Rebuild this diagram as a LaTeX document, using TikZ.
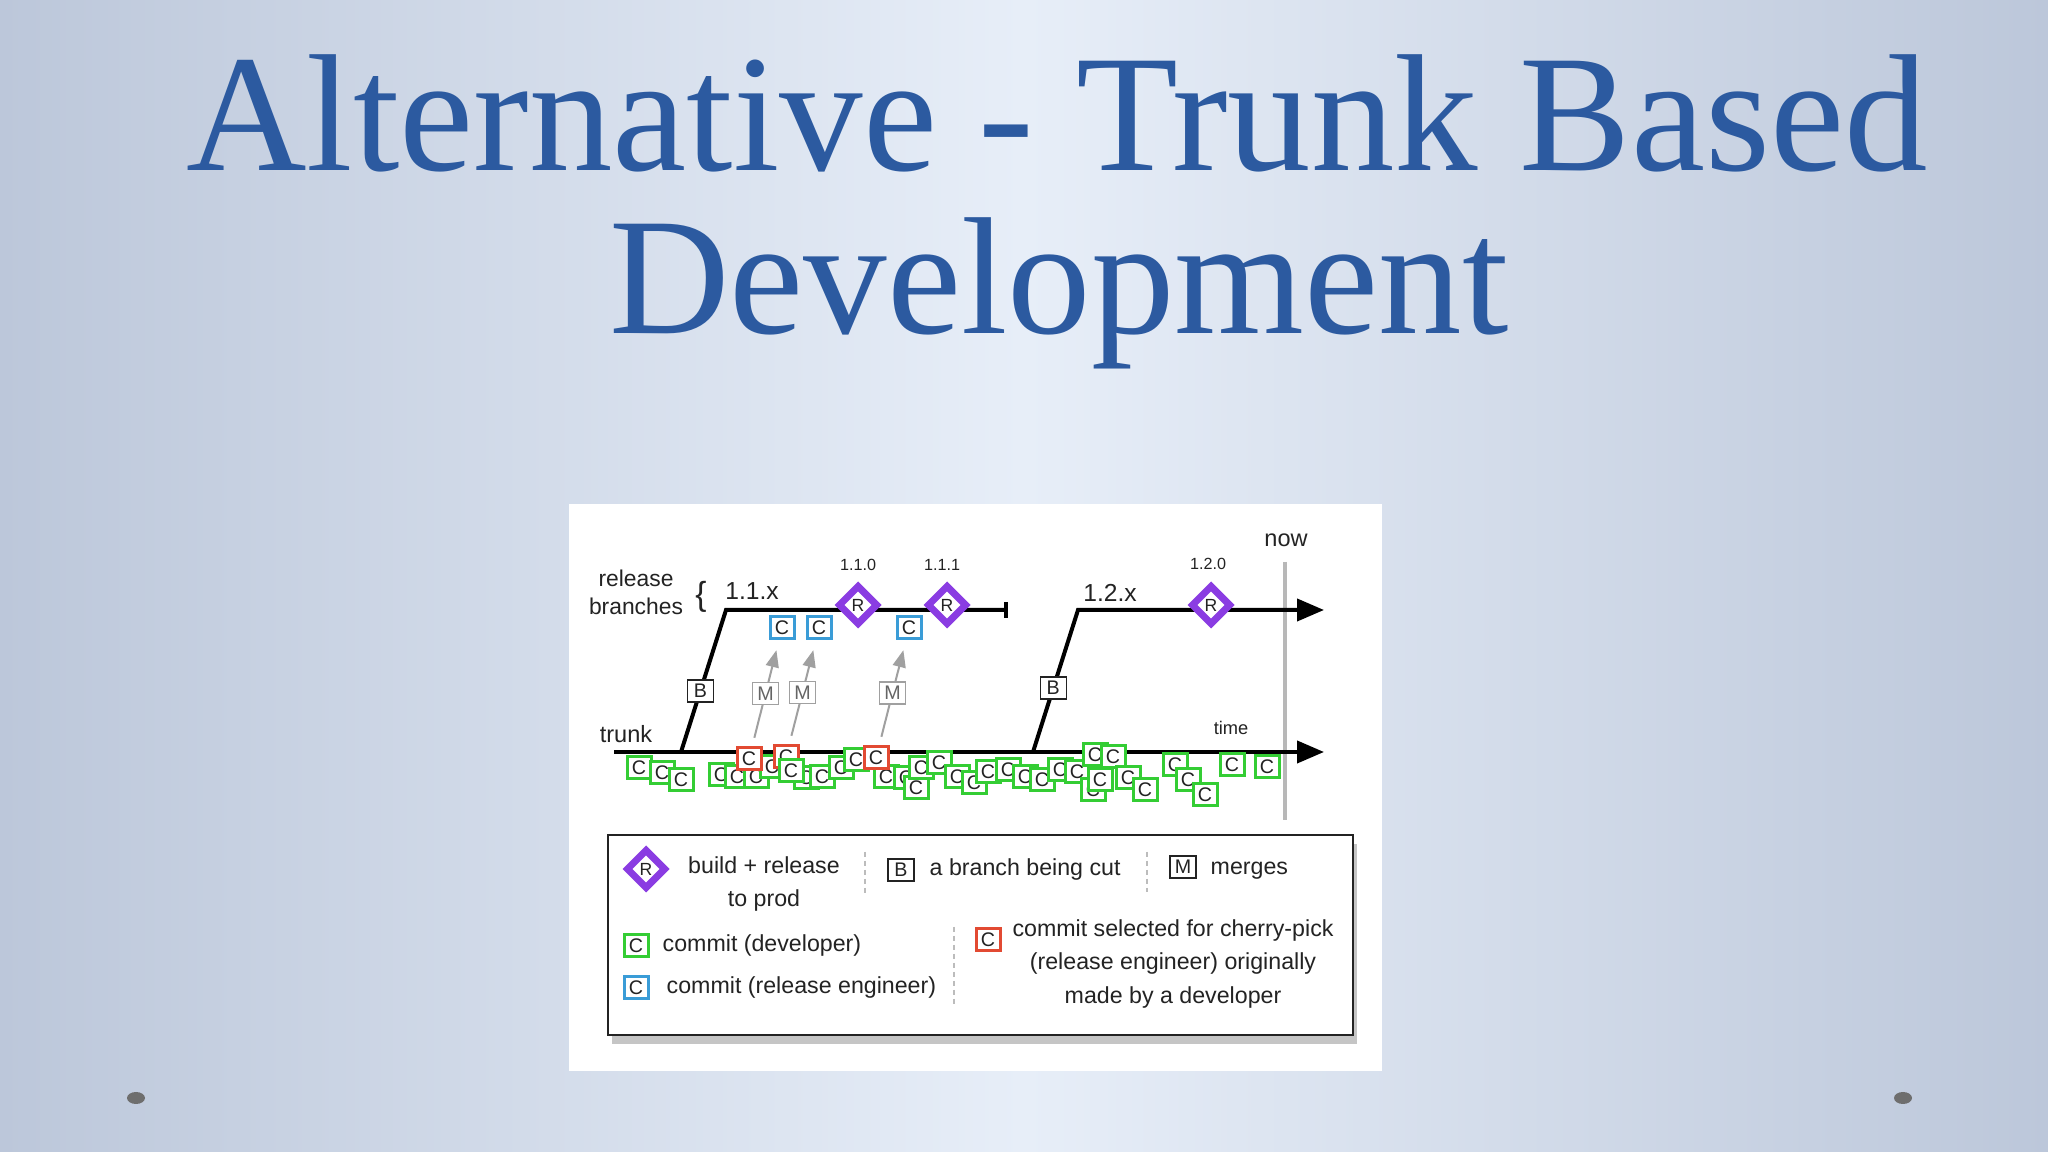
\documentclass[tikz,border=0pt]{standalone}
\usepackage{fontspec}
\setmainfont{Liberation Serif}
\newfontfamily\diagfont{Liberation Sans}
\usetikzlibrary{shapes.geometric,arrows.meta,shadows}

\definecolor{titleblue}{RGB}{44,90,160}
\definecolor{slideedge}{RGB}{188,199,218}
\definecolor{slidemid}{RGB}{231,238,248}
\definecolor{devgreen}{RGB}{52,205,52}
\definecolor{relblue}{RGB}{58,156,215}
\definecolor{pickred}{RGB}{226,74,50}
\definecolor{buildpurple}{RGB}{138,60,226}
\definecolor{mergegray}{RGB}{160,160,160}
\definecolor{inkgray}{RGB}{35,35,35}
\definecolor{bulletgray}{RGB}{110,110,110}

\tikzset{
	title/.style={text=titleblue, font=\fontsize{47.5}{56}\selectfont, inner sep=0pt},
	commit/.style={draw, fill=white, line width=0.3mm, minimum width=2.4mm, minimum height=2.2mm, inner sep=0pt, text=inkgray, font=\diagfont\fontsize{5.6}{6}\selectfont},
	devc/.style={commit, draw=devgreen},
	relc/.style={commit, draw=relblue},
	pickc/.style={commit, draw=pickred},
	cutbox/.style={draw=inkgray, fill=white, line width=0.15mm, minimum width=2.6mm, minimum height=2.2mm, inner sep=0pt, text=inkgray, font=\diagfont\fontsize{5.6}{6}\selectfont},
	mergebox/.style={cutbox, draw=mergegray, text=inkgray!70},
	release/.style={diamond, draw=buildpurple, fill=white, line width=0.7mm, minimum width=4mm, minimum height=4mm, inner sep=0pt, text=inkgray, font=\diagfont\fontsize{5}{6}\selectfont},
	trunkline/.style={line width=0.4mm, black},
	merge/.style={mergegray, line width=0.2mm, shorten <=0.9mm, shorten >=1mm, -{Triangle[length=1.7mm,width=1.3mm]}},
	lbl/.style={inner sep=0pt, text=inkgray, font=\diagfont\fontsize{6.7}{8}\selectfont},
	verlbl/.style={inner sep=0pt, text=inkgray, font=\diagfont\fontsize{4.6}{5}\selectfont},
	keytext/.style={inner sep=0pt, text=inkgray, font=\diagfont\fontsize{6.6}{9.6}\selectfont},
	sep/.style={mergegray!70, line width=0.12mm, dash pattern=on 0.5mm off 0.4mm},
}

\begin{document}
\begin{tikzpicture}[x=0.1mm, y=-0.1mm]
			% slide
			\shade[left color=slideedge, right color=slideedge, middle color=slidemid] (0,0) rectangle (2048,1152);
			\useasboundingbox (0,0) rectangle (2048,1152);
			\node[title, anchor=base] (title1) at (1057,171) {Alternative - Trunk Based};
			\node[title, anchor=base] (title2) at (1059,334) {Development};
			\fill[bulletgray] (136,1098) ellipse (0.9mm and 0.6mm);
			\fill[bulletgray] (1903,1098) ellipse (0.9mm and 0.6mm);

			% diagram panel
			\fill[white] (569,504) rectangle (1382,1071);

			\coordinate (trunkstart) at (614,752);
			\coordinate (trunkend) at (1324,752);
			\coordinate (root1) at (681,752);
			\coordinate (top1) at (726,610);
			\coordinate (end1) at (1008,610);
			\coordinate (root2) at (1033,752);
			\coordinate (top2) at (1078,610);
			\coordinate (end2) at (1324,610);
			\coordinate (nowtop) at (1285,562);
			\coordinate (nowbot) at (1285,820);

			\draw[mergegray!75, line width=0.35mm] (nowtop)--(nowbot);
			\node[lbl] (now) at (1286,540) {now};
			\node[lbl, font=\diagfont\fontsize{5.2}{6}\selectfont] (time) at (1231,728) {time};
			\node[lbl] (trunk) at (626,734) {trunk};
			\node[lbl, align=center, font=\diagfont\fontsize{6.5}{8}\selectfont] (relbr) at (636,592) {release\\branches};
			\node[lbl, font=\diagfont\fontsize{9.5}{10}\selectfont] (brace) at (701,597) {\{};
			\node[lbl, font=\diagfont\fontsize{7}{8}\selectfont] (ver11) at (752,591) {1.1.x};
			\node[lbl, font=\diagfont\fontsize{7}{8}\selectfont] (ver12) at (1110,593) {1.2.x};

			\draw[trunkline, -{Triangle[length=2.7mm,width=2.2mm]}] (trunkstart)--(trunkend);
			\draw[trunkline, -{Bar[width=1.6mm]}] (root1)-- node[cutbox, pos=0.43] (cut1) {B} (top1)--(end1);
			\draw[trunkline, -{Triangle[length=2.7mm,width=2.2mm]}] (root2)-- node[cutbox, pos=0.45] (cut2) {B} (top2)--(end2);

			\node[release] (r110) at (858,605) {R};
			\node[release] (r111) at (947,605) {R};
			\node[release] (r120) at (1211,605) {R};
			\node[verlbl] (v110) at (858,565) {1.1.0};
			\node[verlbl] (v111) at (942,565) {1.1.1};
			\node[verlbl] (v120) at (1208,564) {1.2.0};

			\node[relc] (bc1) at (782,628) {C};
			\node[relc] (bc2) at (819,628) {C};
			\node[relc] (bc3) at (909,628) {C};

			% developer commits on trunk
			\foreach \x/\y [count=\i] in {639/768,662/773,681/780,721/775,737/777,756/777,772/767,806/778,822/777,841/768,856/760,886/777,906/778,916/788,921/768,939/763,957/777,974/783,988/772,1008/770,1025/777,1042/780,1060/770,1077/772,1095/755,1093/790,1100/780,1113/757,1128/778,1145/790,1175/765,1188/780,1205/795,1232/765,1267/767}
				\node[devc] (g\i) at (\x,\y) {C};

			\node[pickc] (cp1) at (749,759) {C};
			\node[pickc] (cp2) at (786,757) {C};
			\node[pickc] (cp3) at (876,758) {C};
			\node[devc] (gfront) at (791,771) {C};

			\foreach \i in {1,2,3}
				\draw[merge] (cp\i)-- node[mergebox] (m\i) {M} (bc\i);

			% legend
			\node[draw=inkgray, fill=white, line width=0.2mm, minimum width=74.5mm, minimum height=20mm, drop shadow={shadow xshift=0.4mm, shadow yshift=-0.9mm, opacity=0.45}] (legend) at (980.5,935) {};
			\node[release] (keyr) at (646,869) {R};
			\node[keytext, align=center] (keyrtext) at (764,884) {build + release\\to prod};
			\draw[sep] (865,852)--(865,895);
			\node[cutbox] (keyb) at (901,870) {B};
			\node[keytext, anchor=west] (keybtext) at (929,870) {a branch being cut};
			\draw[sep] (1147,852)--(1147,892);
			\node[cutbox] (keym) at (1183,867) {M};
			\node[keytext, anchor=west] (keymtext) at (1210,871) {merges};
			\node[devc] (keydev) at (636,946) {C};
			\node[keytext, anchor=west] (keydevtext) at (662,946) {commit (developer)};
			\node[relc] (keyrel) at (636,988) {C};
			\node[keytext, anchor=west] (keyreltext) at (666,988) {commit (release engineer)};
			\draw[sep] (954,927)--(954,1005);
			\node[pickc] (keypick) at (988,940) {C};
			\node[keytext, align=center] (keypicktext) at (1173,964) {commit selected for cherry-pick\\(release engineer) originally\\made by a developer};
		\end{tikzpicture}
\end{document}
